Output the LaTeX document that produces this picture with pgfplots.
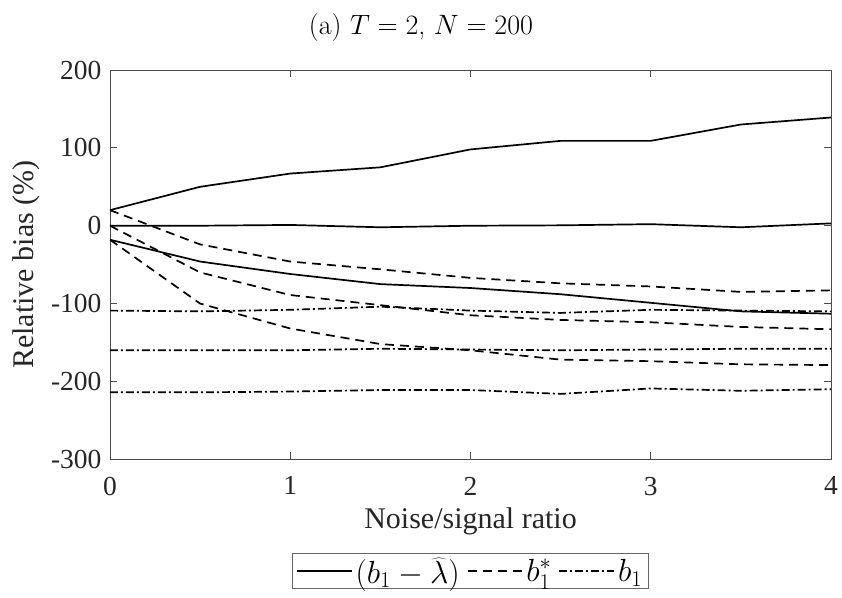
\documentclass[border=0pt]{standalone}
\usepackage{fix-cm}
\usepackage{fontspec}
\setmainfont{Liberation Serif}
\usepackage{pgfplots}
\pgfplotsset{compat=1.18}

\begin{document}
\begin{tikzpicture}
\useasboundingbox (-110bp,-138.7bp) rectangle (732bp,459.3bp);
\begin{axis}[
  at={(0,0)}, anchor=south west,
  scale only axis, width=721bp, height=389.3bp,
  xmin=0, xmax=4, ymin=-300, ymax=200,
  xtick={0,1,2,3,4}, xticklabels={0,1,2,3,4},
  ytick={-300,-200,-100,0,100,200}, yticklabels={-300,-200,-100,0,100,200},
  tick align=inside, major tick length=7bp,
  axis line style={black!70, line width=0.8bp},
  tick style={black!70, line width=0.8bp},
  ticklabel style={font=\fontsize{27.5bp}{33bp}\selectfont, text=black!85},
  xticklabel style={yshift=-14bp},
  yticklabel style={xshift=-5bp},
  xlabel={Noise/signal ratio}, ylabel={Relative bias (\%)},
  label style={font=\fontsize{30bp}{36bp}\selectfont, text=black!85},
  xlabel style={at={(axis description cs:0.5,-0.1603)}, anchor=center},
  ylabel style={at={(axis description cs:-0.1165,0.5)}, anchor=center},
  title={(a) $T=2$, $N=200$},
  title style={at={(axis description cs:0.4313,1.0926)}, anchor=center,
    font=\fontfamily{lmr}\fontsize{28bp}{34bp}\selectfont},
  legend image code/.code={\draw[#1] (0bp,0bp) -- (55bp,0bp);},
  legend style={at={(axis description cs:0.5,-0.2415)}, anchor=north,
    legend columns=3, draw=black!60, line width=0.8bp,
    font=\fontsize{32bp}{38bp}\selectfont,
    nodes={inner xsep=3bp},
    /tikz/every even column/.append style={column sep=4bp}},
  every axis plot/.append style={black, line width=1.7bp},
]
% solid
\addplot[black, solid, mark=none] coordinates {(0,20)(0.5,50)(1,67)(1.5,75)(2,98)(2.5,109)(3,109)(3.5,130)(4,139)};
\addlegendentry{$(b_1-\widehat{\lambda})$}
\addplot[dash pattern=on 9bp off 6bp, forget plot] coordinates {(0,20)(0.5,-24)(1,-46)(1.5,-56)(2,-67)(2.5,-74)(3,-78)(3.5,-85)(4,-83)};
\addplot[dash pattern=on 9bp off 6bp] coordinates {(0,0)(0.5,-60)(1,-89)(1.5,-102)(2,-115)(2.5,-121)(3,-124)(3.5,-130)(4,-133)};
\addlegendentry{$b_1^*$}
\addplot[dash pattern=on 8bp off 3bp on 2bp off 3bp] coordinates {(0,-109)(0.5,-110)(1,-108)(1.5,-104)(2,-109)(2.5,-112)(3,-108)(3.5,-109)(4,-110)};
\addlegendentry{$b_1$}
\addplot[forget plot] coordinates {(0,0)(0.5,0)(1,1)(1.5,-2)(2,0)(2.5,0.5)(3,2)(3.5,-2)(4,3)};
\addplot[forget plot] coordinates {(0,-18)(0.5,-46)(1,-62)(1.5,-75)(2,-80)(2.5,-88)(3,-99)(3.5,-110)(4,-113)};
\addplot[dash pattern=on 9bp off 6bp, forget plot] coordinates {(0,-18)(0.5,-100)(1,-132)(1.5,-152)(2,-160)(2.5,-172)(3,-174)(3.5,-178)(4,-179)};
\addplot[dash pattern=on 8bp off 3bp on 2bp off 3bp, forget plot] coordinates {(0,-160)(0.5,-160)(1,-160)(1.5,-158)(2,-159)(2.5,-160)(3,-159)(3.5,-158)(4,-158)};
\addplot[dash pattern=on 8bp off 3bp on 2bp off 3bp, forget plot] coordinates {(0,-214)(0.5,-214)(1,-213)(1.5,-211)(2,-211)(2.5,-216)(3,-209)(3.5,-212)(4,-210)};
\end{axis}
\end{tikzpicture}
\end{document}
